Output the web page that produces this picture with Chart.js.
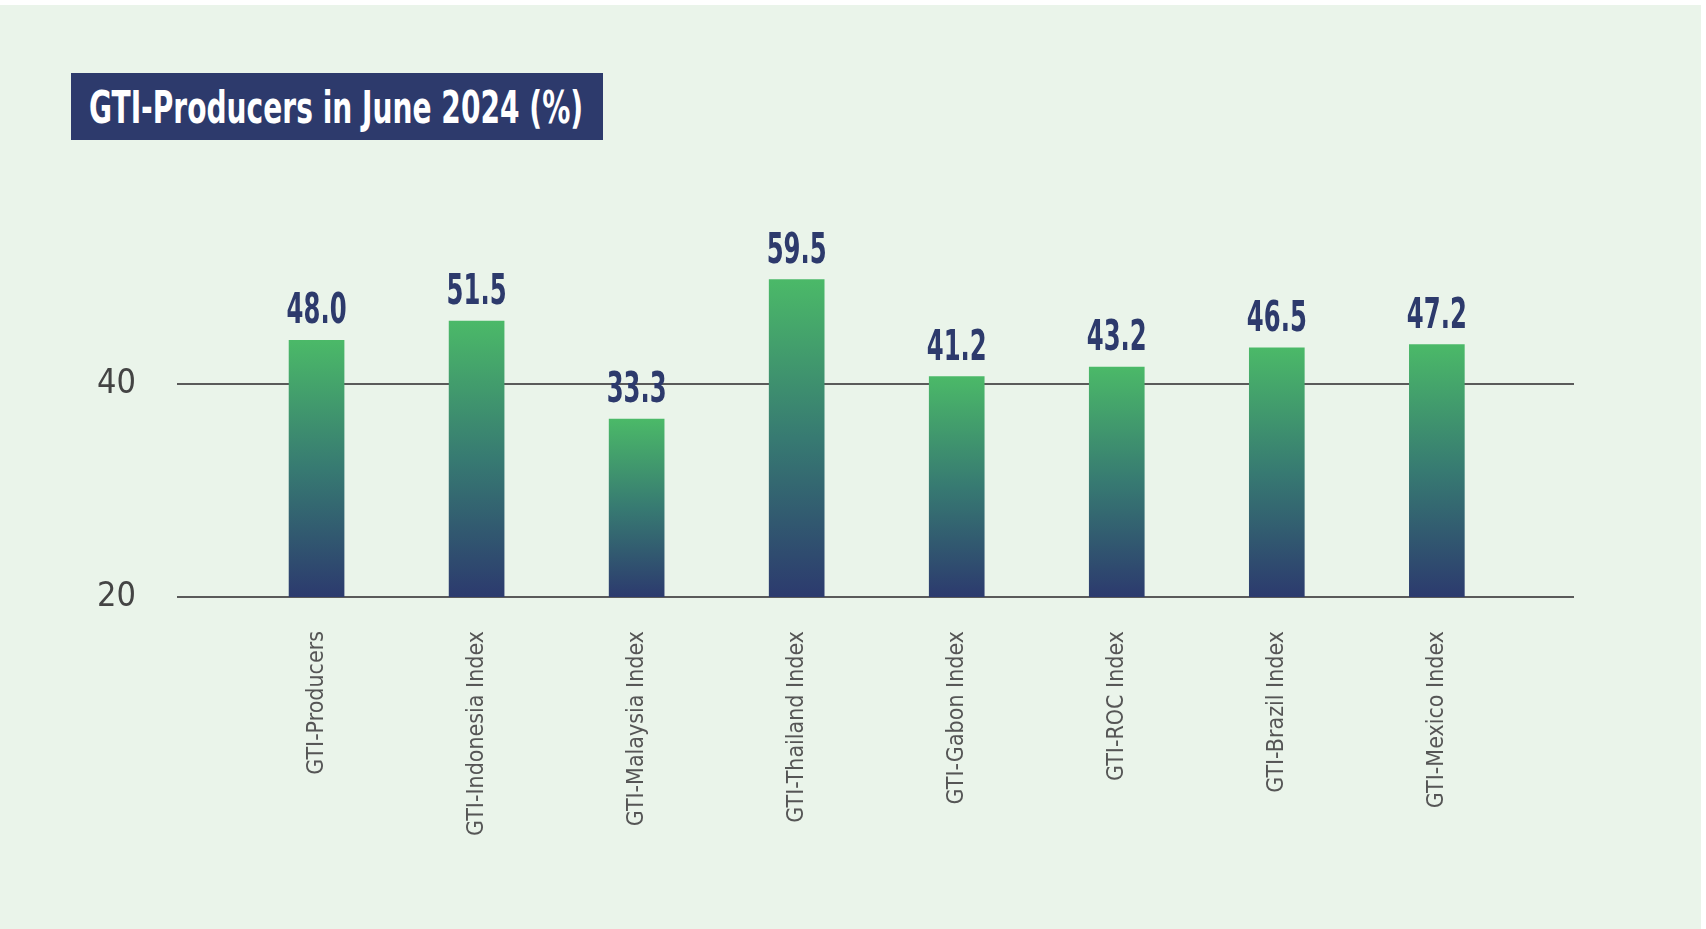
<!DOCTYPE html>
<html>
<head>
<meta charset="utf-8">
<title>GTI-Producers in June 2024 (%)</title>
<script src="https://cdn.jsdelivr.net/npm/chart.js@4.4.1/dist/chart.umd.min.js"></script>
<style>
  html, body { margin: 0; padding: 0; background: #ffffff; width: 1706px; height: 929px; overflow: hidden; }
  #panel { position: absolute; left: 0; top: 5px; width: 1701px; height: 924px; background: #eaf4ea; }
  #wrap { position: absolute; left: 0; top: 0; width: 1706px; height: 929px; }
  #titleBox { position: absolute; left: 71px; top: 73px; width: 532px; height: 67px; background: #2d3a6c; overflow: hidden; }
  #titleBox span {
    position: absolute; left: 18px; top: 12px;
    font-family: "Liberation Sans Narrow", "DejaVu Sans Condensed", sans-serif;
    font-weight: bold; font-size: 45px; line-height: 45px; color: #ffffff;
    white-space: nowrap; transform-origin: left center;
  }
</style>
</head>
<body>
<div id="panel"></div>
<div id="wrap"><canvas id="myChart"></canvas></div>
<div id="titleBox"><span id="titleText">GTI-Producers in June 2024 (%)</span></div>
<script>
// categories on the x axis
const categories = [
  "GTI-Producers",
  "GTI-Indonesia Index",
  "GTI-Malaysia Index",
  "GTI-Thailand Index",
  "GTI-Gabon Index",
  "GTI-ROC Index",
  "GTI-Brazil Index",
  "GTI-Mexico Index",
];
// bar heights as drawn against the axis
const barHeights = [44.1, 45.9, 36.7, 49.8, 40.7, 41.6, 43.4, 43.7];
// numbers printed above each bar
const valueLabels = ["48.0", "51.5", "33.3", "59.5", "41.2", "43.2", "46.5", "47.2"];
// y axis tick labels shown
const yTicks = [20, 40];

const narrow = '"Liberation Sans Narrow", "DejaVu Sans Condensed", sans-serif';
Chart.defaults.font.family = narrow;

// squeeze the title to the condensed width of the original
const titleText = document.getElementById("titleText");
titleText.style.transform = "scaleX(" + (494 / titleText.offsetWidth) + ")";

// gradient for each bar, green at the top to navy at the base
function barGradient(context) {
  const chart = context.chart;
  const { chartArea, scales } = chart;
  if (!chartArea || !context.raw) return "#4bb968";
  const top = scales.y.getPixelForValue(context.raw.y);
  const bottom = scales.y.getPixelForValue(yTicks[0]);
  const g = chart.ctx.createLinearGradient(0, top, 0, bottom);
  g.addColorStop(0, "#4bb968");
  g.addColorStop(0.5, "#377a72");
  g.addColorStop(1, "#2c3a6e");
  return g;
}

// draw the printed value over each bar
const valueLabelPlugin = {
  id: "valueLabels",
  afterDatasetsDraw(chart) {
    const ctx = chart.ctx;
    const meta = chart.getDatasetMeta(0);
    ctx.save();
    ctx.font = "bold 42px " + narrow;
    const squeeze = 60 / ctx.measureText("48.0").width;
    ctx.restore();
    meta.data.forEach((bar, i) => {
      ctx.save();
      ctx.translate(bar.x, bar.y - 17);
      ctx.scale(squeeze, 1);
      ctx.font = "bold 42px " + narrow;
      ctx.textAlign = "center";
      ctx.textBaseline = "alphabetic";
      ctx.fillStyle = "#2d3a6c";
      ctx.fillText(valueLabels[i], 0, 0);
      ctx.restore();
    });
  },
};

const ctx = document.getElementById("myChart").getContext("2d");
new Chart(ctx, {
  type: "bar",
  data: {
    datasets: [
      {
        data: barHeights.map((v, i) => ({ x: i, y: v })),
        backgroundColor: barGradient,
        borderWidth: 0,
        barThickness: 55,
      },
    ],
  },
  options: {
    responsive: true,
    maintainAspectRatio: false,
    animation: false,
    layout: { padding: { top: 171, right: 132, bottom: 0, left: 0 } },
    plugins: {
      legend: { display: false },
      tooltip: { enabled: false },
      title: { display: false },
    },
    scales: {
      x: {
        type: "linear",
        offset: false,
        min: -0.872,
        max: 7.857,
        grid: { display: false, offset: false },
        border: { display: false },
        afterFit: (s) => { s.height = 332; },
        ticks: {
          stepSize: 1,
          autoSkip: false,
          includeBounds: false,
          minRotation: 90,
          maxRotation: 90,
          padding: 26,
          color: "#555555",
          font: { size: 23 },
          callback: (v) => categories[v] ?? "",
        },
      },
      y: {
        min: 20,
        max: 60,
        afterFit: (s) => { s.width = 177; },
        border: { display: false },
        grid: {
          drawTicks: false,
          lineWidth: 2,
          color: (c) => (yTicks.includes(c.tick.value) ? "#5a5a5a" : "rgba(0,0,0,0)"),
        },
        ticks: {
          stepSize: 20,
          padding: 41,
          color: "#444444",
          font: { size: 34 },
          callback: (v) => (yTicks.includes(v) ? v : ""),
        },
      },
    },
  },
  plugins: [valueLabelPlugin],
});
</script>
</body>
</html>
